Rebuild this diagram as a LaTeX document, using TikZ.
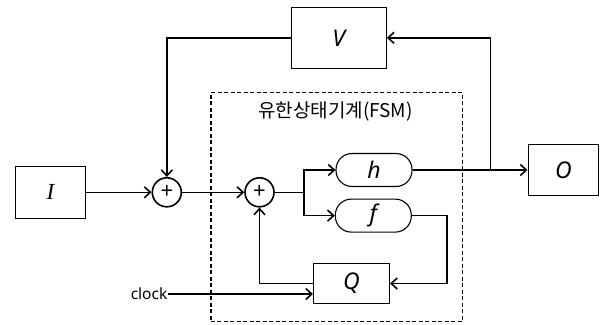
\documentclass[tikz,border=0pt]{standalone}
\usepackage{fontspec}
\setmainfont{Noto Sans}
\newfontfamily\krfont{Noto Sans CJK KR}
\newfontfamily\serifit{Liberation Serif}
\usetikzlibrary{arrows.meta}
\begin{document}
\begin{tikzpicture}[x=1pt,y=-1pt,
  blk/.style={draw, line width=1.1pt, inner sep=0pt, font=\itshape\fontsize{23}{23}\selectfont},
  sumnode/.style={circle, draw, line width=1.6pt, minimum size=29pt, inner sep=0pt, font=\fontsize{22}{22}\selectfont},
  pill/.style={draw, line width=1.1pt, rounded corners=16pt, inner sep=0pt, minimum width=76pt, minimum height=33pt, font=\itshape\fontsize{23}{23}\selectfont},
  wire/.style={line width=1.6pt, -{Straight Barb[length=6pt,width=11pt,line width=1.6pt]}},
  plain/.style={line width=1.6pt},
  fsmbox/.style={draw, line width=1.5pt, dash pattern=on 4pt off 2.5pt, inner sep=0pt},
  lbl/.style={inner sep=0pt}
]
\useasboundingbox (0,0) rectangle (604,324);
\node[fsmbox, minimum width=251.9pt, minimum height=228.6pt] (fsm) at (336.7,207) {};
\node[lbl, font=\fontsize{19}{19}\selectfont] (fsmlabel) at (335.5,111.7) {\krfont 유한상태기계(FSM)};
\node[blk, minimum width=70pt, minimum height=51.6pt] (I) at (50.4,192.3) {\serifit I};
\node[blk, minimum width=95pt, minimum height=61pt] (V) at (338.8,37.8) {V};
\node[blk, minimum width=70.5pt, minimum height=51.7pt] (O) at (563.3,170) {O};
\node[sumnode] (s1) at (166.8,192.3) {+};
\node[sumnode] (s2) at (259.5,192.3) {+};
\node[pill] (h) at (374,170) {h};
\node[pill] (f) at (373.3,215.6) {f};
\node[blk, minimum width=76pt, minimum height=40.7pt] (Q) at (351.5,283.5) {Q};
\node[lbl, anchor=east, font=\fontsize{15.5}{15.5}\selectfont] (clk) at (167.5,294) {clock};
\coordinate (j1) at (303.8,192.3);
\coordinate (j2) at (490.4,170);
\coordinate (fr) at (447,215.6);
\draw[wire] (I.east) -- (s1.west);
\draw[wire] (s1.east) -- (s2.west);
\draw[plain] (s2.east) -- (j1);
\draw[wire] (j1) |- (h.west);
\draw[wire] (j1) |- (f.west);
\draw[wire] (h.east) -- (O.west);
\draw[wire] (j2) |- (V.east);
\draw[wire] (V.west) -| (s1.north);
\draw[wire] (f.east) -- (fr) |- (Q.east);
\draw[wire] (Q.west) -| (s2.south);
\draw[wire] (clk.east) -- (Q.west |- clk.east);
\end{tikzpicture}
\end{document}
